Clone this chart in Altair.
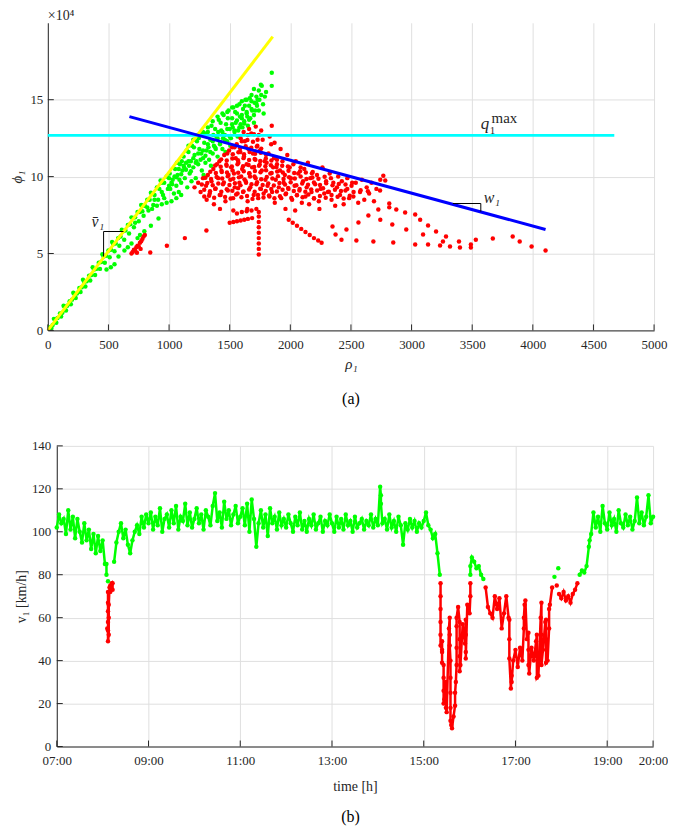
import altair as alt
import pandas as pd

FONT = "Liberation Serif"
AX = "#262626"
GRID = "#dfdfdf"

# ---------------- panel (a): flow-density scatter ----------------
green_pts = [
    (20, 0.2), (40, 0.35), (60, 0.7), (80, 0.8), (100, 1.1), (120, 1.15), (140, 1.5), (160, 1.6),
    (180, 1.9), (200, 2.0), (220, 2.35), (240, 2.4), (260, 2.75), (280, 2.8), (300, 3.15), (320, 3.2),
    (340, 3.55), (360, 3.6), (380, 3.95), (400, 4.0), (420, 4.4), (440, 4.45), (460, 4.8), (480, 4.85),
    (500, 5.2), (520, 5.25), (540, 5.6), (560, 5.65), (580, 6.0), (600, 6.1), (620, 6.45), (640, 6.5),
    (660, 6.85), (680, 6.9), (700, 7.3), (720, 7.35), (740, 7.7), (760, 7.7), (780, 8.1), (800, 8.1),
    (820, 8.5), (840, 8.5), (860, 8.9), (880, 8.8), (900, 9.3), (920, 9.2), (940, 9.6), (960, 9.6),
    (980, 10.0), (1000, 9.9),
    (30, 0.15), (70, 0.5), (110, 0.9), (150, 1.3), (190, 1.7), (230, 2.1), (270, 2.5), (310, 2.85),
    (350, 3.25), (390, 3.6), (430, 4.0), (470, 4.4), (510, 4.75), (550, 5.15), (590, 5.5), (630, 5.9),
    (670, 6.3), (710, 6.7), (750, 7.1), (790, 7.45), (830, 7.8), (870, 8.15), (910, 8.5), (950, 8.8),
    (990, 9.2),
    (50, 0.75), (130, 1.6), (210, 2.45), (290, 3.3), (370, 4.1), (450, 4.95), (530, 5.75), (610, 6.55),
    (690, 7.35), (770, 8.15), (850, 8.95), (930, 9.75),
    (484, 3.96), (520, 4.1), (550, 4.3), (583, 4.8), (632, 5.2), (690, 5.65), (740, 6.0), (796, 6.45),
    (913, 7.27), (660, 5.4), (760, 6.2), (850, 6.8),
    (860, 7.9), (900, 8.1), (940, 8.2), (980, 8.3), (1020, 8.4), (1060, 8.6), (1100, 8.8),
    (1010, 9.2), (1030, 9.8), (1040, 8.9), (1050, 10.5), (1060, 9.4), (1070, 10.1), (1080, 9.0),
    (1090, 10.8), (1100, 9.6),
    (1110, 10.4), (1120, 11.3), (1130, 9.9), (1140, 10.9), (1150, 9.3), (1160, 11.6), (1170, 10.2),
    (1180, 11.0), (1190, 12.0), (1200, 10.6),
    (1210, 11.4), (1220, 9.9), (1230, 12.3), (1240, 10.8), (1250, 11.8), (1260, 12.7), (1270, 10.4),
    (1280, 11.2), (1290, 12.2), (1300, 10.9),
    (1310, 11.7), (1320, 12.9), (1330, 11.1), (1340, 12.4), (1350, 13.3), (1360, 11.5), (1370, 12.0),
    (1380, 13.1), (1390, 12.6), (1400, 11.3),
    (1410, 13.7), (1420, 12.2), (1430, 13.0), (1440, 11.8), (1450, 14.0), (1460, 12.7), (1470, 13.4),
    (1480, 12.3), (1490, 14.3), (1500, 13.1),
    (1510, 12.5), (1520, 13.8), (1530, 14.5), (1540, 12.9), (1550, 13.5), (1560, 14.1), (1570, 13.0),
    (1580, 14.7), (1590, 13.4), (1600, 14.0),
    (1610, 14.4), (1620, 13.6), (1630, 15.0), (1640, 14.2), (1650, 13.3), (1660, 14.6), (1670, 13.8),
    (1680, 14.9), (1700, 13.5),
    (1710, 14.3), (1720, 15.2), (1730, 15.0), (1740, 15.6), (1757, 15.97), (1760, 15.3), (1800, 15.5),
    (1847, 15.9), (1847, 16.75), (1780, 14.1),
    (1005, 10.2), (1025, 9.5), (1045, 10.0), (1065, 10.9), (1085, 9.8), (1105, 11.0), (1125, 10.6),
    (1145, 11.7), (1165, 10.7), (1185, 9.7), (1205, 11.9), (1225, 11.0), (1245, 12.5), (1265, 11.5),
    (1285, 10.1), (1305, 12.8), (1325, 11.9), (1345, 10.7), (1365, 12.7), (1385, 11.8), (1405, 12.9),
    (1425, 13.5), (1445, 12.5), (1465, 11.6), (1485, 13.8), (1505, 12.0), (1525, 13.2), (1545, 14.2),
    (1565, 12.6), (1585, 13.9), (1605, 13.2), (1625, 14.6), (1645, 13.9), (1665, 15.1), (1685, 14.3),
    (1705, 14.8), (1725, 14.6), (1745, 15.0), (1765, 15.9), (1775, 14.7), (1790, 15.2),
    (720, 7.0), (780, 7.75), (820, 8.0), (880, 8.5), (940, 9.0), (960, 8.6), (1000, 9.4),
    (1020, 9.6), (1060, 9.95), (1100, 10.15), (1140, 10.45), (1180, 10.35), (1220, 10.9), (1260, 11.1),
    (1300, 11.35), (1340, 11.6), (1380, 11.9), (1420, 12.1), (1460, 12.4), (1500, 12.6), (1540, 13.0),
    (1580, 13.2), (1620, 13.45), (1660, 13.7), (1700, 14.0), (1740, 14.3),
    (1080, 10.5), (1120, 10.7), (1160, 11.0), (1200, 11.2), (1240, 11.5), (1280, 11.7), (1320, 12.1),
    (1360, 12.3), (1400, 12.5), (1440, 12.9), (1480, 13.1), (1520, 13.4), (1560, 13.65), (1600, 13.8),
    (1640, 14.1), (1680, 14.4), (1720, 14.75),
    (1160, 12.0), (1200, 12.4), (1240, 12.7), (1280, 12.9), (1320, 13.2), (1360, 13.6), (1400, 13.9),
    (1440, 14.1), (1480, 14.2), (1520, 14.5), (1560, 14.6), (1600, 14.9), (1640, 15.0), (1680, 15.3),
    (1700, 15.7),
]

red_pts = [
    (1210, 9.3), (1240, 9.6), (1260, 9.0), (1280, 9.9), (1290, 8.7),
    (1305, 9.4), (1320, 10.1), (1335, 8.9), (1350, 9.7), (1365, 10.5), (1380, 9.2), (1395, 10.8),
    (1310, 8.5), (1370, 8.2),
    (1405, 9.9), (1415, 11.0), (1425, 8.8), (1435, 10.3), (1445, 9.5), (1455, 11.4), (1465, 8.4),
    (1475, 10.7), (1485, 9.1), (1495, 11.7), (1420, 7.9), (1490, 10.1),
    (1505, 9.8), (1512, 10.6), (1520, 11.9), (1528, 8.6), (1535, 10.2), (1542, 9.3), (1550, 11.2),
    (1558, 12.1), (1565, 8.9), (1572, 10.9), (1580, 9.6), (1588, 11.6), (1595, 10.0), (1530, 7.8),
    (1590, 12.5),
    (1603, 10.5), (1610, 9.0), (1618, 11.3), (1625, 12.3), (1632, 9.7), (1640, 10.8), (1648, 8.4),
    (1655, 11.8), (1662, 10.2), (1670, 9.3), (1678, 12.8), (1685, 10.6), (1692, 11.5), (1698, 8.8),
    (1615, 12.9), (1660, 13.1), (1645, 7.9),
    (1705, 10.0), (1712, 11.1), (1720, 9.5), (1728, 12.0), (1735, 8.6), (1742, 10.7), (1750, 11.7),
    (1758, 9.2), (1765, 10.4), (1772, 12.4), (1780, 8.9), (1788, 11.0), (1795, 9.8), (1715, 13.25),
    (1760, 13.0), (1740, 12.7),
    (1805, 10.9), (1812, 9.4), (1820, 11.5), (1828, 8.7), (1835, 10.2), (1842, 12.1), (1850, 9.0),
    (1858, 10.6), (1865, 11.2), (1872, 8.3), (1880, 9.8), (1890, 10.8), (1847, 13.3), (1830, 12.6),
    (1870, 12.2),
    (1905, 9.3), (1915, 10.4), (1925, 8.6), (1935, 11.0), (1945, 9.6), (1955, 10.1), (1965, 8.9),
    (1975, 11.4), (1985, 9.2), (1995, 10.6), (1920, 11.8), (1960, 7.9),
    (2005, 9.9), (2015, 8.5), (2025, 10.8), (2035, 9.4), (2045, 11.0), (2055, 8.8), (2065, 10.2),
    (2075, 9.1), (2085, 10.6), (2095, 8.3), (2040, 7.8),
    (2105, 9.7), (2115, 10.5), (2125, 8.7), (2135, 9.3), (2145, 10.9), (2155, 8.2), (2165, 9.9),
    (2175, 9.0), (2185, 10.3), (2195, 8.6),
    (2205, 9.5), (2220, 10.1), (2235, 8.4), (2250, 9.2), (2265, 10.6), (2280, 8.9), (2295, 9.7),
    (2240, 7.9),
    (2310, 9.0), (2325, 10.2), (2340, 8.5), (2355, 9.6), (2370, 8.1), (2385, 9.3), (2395, 10.0),
    (2410, 8.8), (2425, 9.7), (2440, 8.2), (2455, 9.1), (2470, 9.9), (2485, 8.6),
    (2505, 9.4), (2520, 8.7), (2540, 9.6), (2560, 8.3), (2575, 9.0), (2590, 9.8),
    (2610, 8.5), (2630, 9.3), (2650, 8.9), (2670, 9.6), (2690, 8.4), (2710, 9.2), (2726, 7.86),
    (2742, 9.8), (2767, 10.06), (2783, 9.74), (2740, 9.1),
    # dense congested core
    (1330, 8.75), (1372, 8.62), (1418, 8.80), (1462, 8.68), (1508, 8.58), (1553, 8.83), (1597, 8.66),
    (1643, 8.74), (1688, 8.55), (1733, 8.81), (1779, 8.64), (1824, 8.77), (1869, 8.59), (1915, 8.72),
    (1961, 8.85), (2008, 8.61), (2054, 8.78), (2101, 8.66), (2149, 8.83), (2196, 8.57), (2244, 8.74),
    (2292, 8.62), (2340, 8.8), (2390, 8.69), (2440, 8.58), (2490, 8.76),
    (1290, 9.15), (1338, 9.05), (1384, 9.22), (1431, 9.02), (1476, 9.18), (1522, 9.08), (1569, 9.25),
    (1614, 9.04), (1660, 9.16), (1706, 9.01), (1752, 9.21), (1797, 9.07), (1843, 9.19), (1889, 9.03),
    (1936, 9.14), (1982, 9.26), (2029, 9.06), (2077, 9.2), (2124, 9.01), (2172, 9.17), (2221, 9.09),
    (2270, 9.24), (2318, 9.02), (2368, 9.15), (2418, 9.06), (2470, 9.2), (2522, 9.0), (2580, 9.12),
    (2640, 9.05),
    (1270, 9.48), (1315, 9.58), (1360, 9.44), (1406, 9.55), (1452, 9.62), (1498, 9.46), (1543, 9.57),
    (1589, 9.43), (1635, 9.6), (1680, 9.5), (1726, 9.64), (1772, 9.45), (1818, 9.56), (1864, 9.42),
    (1910, 9.59), (1956, 9.48), (2003, 9.63), (2050, 9.44), (2098, 9.55), (2146, 9.47), (2195, 9.61),
    (2245, 9.45), (2296, 9.57), (2348, 9.43), (2400, 9.52), (2455, 9.48), (2510, 9.6),
    (1300, 9.92), (1346, 9.84), (1392, 9.98), (1438, 9.88), (1484, 10.02), (1530, 9.86), (1576, 9.95),
    (1622, 9.82), (1668, 10.0), (1714, 9.9), (1760, 9.83), (1806, 9.97), (1852, 9.87), (1898, 10.03),
    (1944, 9.85), (1990, 9.96), (2037, 9.88), (2085, 10.01), (2133, 9.84), (2182, 9.94), (2232, 9.86),
    (2283, 9.99), (2335, 9.9),
    (1340, 10.32), (1386, 10.24), (1432, 10.38), (1478, 10.27), (1524, 10.4), (1570, 10.25),
    (1616, 10.35), (1662, 10.22), (1708, 10.37), (1754, 10.28), (1800, 10.41), (1846, 10.23),
    (1892, 10.33), (1938, 10.26), (1985, 10.38), (2032, 10.24), (2080, 10.35), (2128, 10.27),
    (2178, 10.21),
    (1380, 10.72), (1426, 10.64), (1472, 10.78), (1518, 10.66), (1564, 10.8), (1610, 10.68),
    (1656, 10.75), (1702, 10.62), (1748, 10.79), (1794, 10.67), (1840, 10.74), (1886, 10.63),
    (1933, 10.7), (1980, 10.66),
    (1430, 11.12), (1476, 11.04), (1522, 11.18), (1568, 11.06), (1614, 11.2), (1660, 11.08),
    (1706, 11.15), (1752, 11.02), (1798, 11.17), (1844, 11.05), (1890, 11.1),
    (1480, 11.5), (1526, 11.45), (1572, 11.58), (1618, 11.46), (1664, 11.6), (1710, 11.48),
    (1756, 11.55), (1800, 11.42),
    (1540, 11.9), (1586, 11.85), (1632, 11.98), (1678, 11.88), (1724, 11.95), (1760, 11.82),
    (1600, 12.3), (1646, 12.38), (1692, 12.26), (1730, 12.4), (1650, 12.7), (1700, 12.75),
    # sparse congested tail
    (690, 5.0), (700, 5.1), (710, 5.25), (720, 5.2), (730, 5.4), (740, 5.5), (750, 5.45), (760, 5.7),
    (770, 5.8), (780, 5.95), (790, 6.1), (800, 6.2), (735, 5.05), (765, 5.3),
    (845, 5.06), (982, 5.5), (1130, 6.0), (1308, 6.5),
    (1500, 7.0), (1530, 7.05), (1560, 7.1), (1590, 7.15), (1620, 7.2), (1650, 7.25), (1685, 7.3),
    (1740, 4.94), (1740, 5.3), (1740, 5.65), (1740, 6.0), (1740, 6.35), (1740, 6.7), (1740, 7.05),
    (1740, 7.4), (1740, 7.7),
    (1560, 7.6), (1600, 7.7), (1640, 7.75), (1680, 7.8), (1720, 7.9),
    (1987, 7.2), (2020, 7.0), (2055, 6.8), (2090, 6.6), (2125, 6.4), (2160, 6.2), (2195, 6.0),
    (2230, 5.85), (2258, 5.7),
    (2816, 8.25), (2816, 8.0), (2874, 7.86), (2947, 7.66), (3030, 7.53), (3071, 7.2), (3136, 6.82),
    (3202, 6.43), (3284, 6.1), (3259, 5.78), (3235, 5.52), (3136, 5.58), (3095, 6.23), (3030, 5.58),
    (2956, 6.56), (2841, 6.88), (2742, 7.2), (2644, 7.47), (2562, 7.01), (2463, 6.56), (2422, 5.9),
    (2545, 5.84), (2685, 5.78), (2849, 5.71), (2373, 6.23), (2348, 6.75), (3317, 5.45), (3391, 5.78),
    (3399, 5.39), (3489, 5.58), (3489, 5.39), (3530, 5.9), (3670, 5.97), (3834, 6.1), (3892, 5.78),
    (3990, 5.45), (4105, 5.2),
]

# reference lines (rho, phi in 10^4 units)
yellow_rho = [0, 1855]
yellow_phi = [0, 19.1]
cyan_rho = [0, 4672]
cyan_phi = [12.68, 12.68]
blue_rho = [673, 4105]
blue_phi = [13.9, 6.56]

# slope markers
vbar_mark_rho = [460, 460, 624]
vbar_mark_phi = [4.8, 6.43, 6.43]
w_mark_rho = [3341, 3571, 3571]
w_mark_phi = [8.25, 8.25, 7.72]

x_ticks_a = [0, 500, 1000, 1500, 2000, 2500, 3000, 3500, 4000, 4500, 5000]
y_ticks_a = [0, 5, 10, 15]

# ---------------- panel (b): speed time series ----------------
speed_by_hour = [
    [102, 108, 104, 106, 99, 110, 101, 107, 97, 106, 100, 95, 104, 96, 101, 92, 99, 90, 98, 91],       # 07
    [96, 85, 55, 74, 76, 86, 95, 100, 104, 97, 101, 94, 90, 96, 100, 103, 99, 107, 102, 108],         # 08
    [104, 109, 101, 107, 103, 111, 100, 106, 108, 102, 110, 104, 112, 101, 107, 105, 113, 103, 109, 102],  # 09
    [106, 111, 104, 108, 101, 110, 107, 103, 112, 118, 105, 109, 102, 114, 106, 110, 103, 108, 112, 104],  # 10
    [107, 111, 103, 113, 100, 115, 106, 93, 104, 110, 102, 108, 98, 111, 104, 107, 101, 109, 103, 106],   # 11
    [102, 108, 104, 100, 107, 103, 109, 101, 105, 100, 106, 103, 108, 101, 104, 107, 100, 105, 103, 108],  # 12
    [104, 100, 107, 102, 106, 101, 108, 103, 105, 100, 107, 102, 104, 106, 101, 105, 103, 108, 102, 106],  # 13
    [103, 121, 104, 106, 101, 108, 102, 105, 100, 107, 103, 94, 104, 101, 106, 102, 105, 100, 104, 102],   # 14
    [105, 109, 103, 101, 97, 99, 90, 80, 45, 22, 16, 55, 10, 14, 30, 65, 38, 57, 48, 66],               # 15
    [62, 88, 86, 83, 84, 80, 78, 74, 65, 62, 60, 70, 64, 69, 55, 62, 70, 60, 27, 40],                   # 16
    [45, 37, 46, 40, 66, 50, 34, 46, 40, 49, 33, 60, 45, 58, 40, 66, 74, 79, 75, 71],                   # 17
    [69, 72, 68, 70, 67, 71, 73, 76, 80, 82, 81, 84, 93, 99, 109, 102, 107, 100, 112, 104],             # 18
    [101, 109, 103, 106, 100, 110, 104, 102, 108, 103, 107, 101, 105, 116, 104, 109, 103, 107, 117, 104],  # 19
    [107],                                                                                              # 20:00
]
# extra samples in steep drops: (minutes after 07:00, km/h)
extra_samples = [
    (65, 85), (65, 80), (67, 77), (67, 72), (67, 67), (67, 63), (67, 58), (67, 54), (67, 49),
    (68, 52), (68, 60), (68, 66), (70, 72), (70, 75), (73, 73), (73, 76),
    (424, 117), (424, 113),
    (502, 76), (502, 70), (502, 64), (502, 58), (502, 52), (502, 47), (504, 49), (504, 44), (504, 39),
    (506, 38), (506, 32), (506, 26), (506, 20), (509, 30), (509, 24), (509, 18), (514, 60), (514, 52),
    (514, 47), (515, 40), (515, 32), (515, 25), (515, 18), (515, 12), (517, 8.5), (521, 19), (521, 25),
    (523, 38), (523, 46), (523, 56), (523, 60), (527, 58), (527, 50), (527, 42), (527, 35), (535, 59),
    (535, 52), (535, 44), (535, 41), (541, 70), (541, 76), (541, 80), (541, 84),
    (592, 59), (592, 50), (592, 41), (595, 33), (595, 30), (611, 55), (611, 60), (613, 68), (617, 53),
    (617, 45), (617, 38), (628, 52), (628, 42), (628, 32), (634, 67), (634, 52), (634, 38), (640, 59),
    (640, 50), (640, 39), (644, 55), (644, 64), (656, 83), (697, 96),
]
SAMPLE_STEP_MIN = 3
CONGESTION_KMH = 77
x_ticks_b = [0, 120, 240, 360, 480, 600, 720, 780]
y_ticks_b = [0, 20, 40, 60, 80, 100, 120, 140]

# ---------------- build tables ----------------
g_df = pd.DataFrame(green_pts, columns=["rho", "phi"])
r_df = pd.DataFrame(red_pts, columns=["rho", "phi"])
yel_df = pd.DataFrame({"rho": yellow_rho, "phi": yellow_phi})
cya_df = pd.DataFrame({"rho": cyan_rho, "phi": cyan_phi})
blu_df = pd.DataFrame({"rho": blue_rho, "phi": blue_phi})
mk_df = pd.DataFrame({
    "rho": vbar_mark_rho + w_mark_rho,
    "phi": vbar_mark_phi + w_mark_phi,
    "grp": ["v"] * 3 + ["w"] * 3,
    "k": [0, 1, 2, 0, 1, 2],
})

vals = [v for hour in speed_by_hour for v in hour]
ts = pd.DataFrame({"t": [i * SAMPLE_STEP_MIN for i in range(len(vals))], "v": vals})
ex = pd.DataFrame(extra_samples, columns=["t", "v"])
ts = pd.concat([ts, ex], ignore_index=True).sort_values("t", kind="stable").reset_index(drop=True)
ts["cls"] = ["r" if v < CONGESTION_KMH else "g" for v in ts["v"]]
ts["run"] = (ts["cls"] != ts["cls"].shift()).cumsum()

# ---------------- panel (a) chart ----------------
W_A, H_A = 609, 309
TICK_PX = 6
LABEL_SIZE = 13
xs_a = alt.Scale(domain=[0, 5000], nice=False, zero=False)
ys_a = alt.Scale(domain=[0, 20], nice=False, zero=False)

axis_common = dict(
    labelFont=FONT, labelFontSize=LABEL_SIZE, labelColor=AX, domainColor=AX, domainWidth=1,
    gridColor=GRID, gridWidth=1, grid=True, ticks=False, tickSize=0, labelFlush=False,
    titleFont=FONT, titleColor=AX, titleFontWeight="normal",
)

ax_x_a = alt.Axis(values=x_ticks_a, format="d", title="ρ₁", titleFontSize=15, titleFontStyle="italic",
                  labelPadding=8, titlePadding=5, **axis_common)
ax_y_a = alt.Axis(values=y_ticks_a, format="d", title="ϕ₁", titleFontSize=15, titleFontStyle="italic",
                  labelPadding=5, titlePadding=5, **axis_common)
xa = alt.X("rho:Q", scale=xs_a, axis=ax_x_a)
ya = alt.Y("phi:Q", scale=ys_a, axis=ax_y_a)

green_layer = alt.Chart(g_df).mark_circle(size=20, color="#00ff00", opacity=1).encode(x=xa, y=ya)
red_layer = alt.Chart(r_df).mark_circle(size=20, color="#ff0000", opacity=1).encode(x=xa, y=ya)
yel_layer = alt.Chart(yel_df).mark_line(color="#ffff00", strokeWidth=3).encode(x=xa, y=ya)
cya_layer = alt.Chart(cya_df).mark_line(color="#00ffff", strokeWidth=3).encode(x=xa, y=ya)
blu_layer = alt.Chart(blu_df).mark_line(color="#0000ff", strokeWidth=3).encode(x=xa, y=ya)
mk_layer = alt.Chart(mk_df).mark_line(color="black", strokeWidth=1).encode(
    x=xa, y=ya, detail="grp:N", order="k:Q")

# inward axis ticks (MATLAB style), lengths converted from pixels to data units
tx_a = pd.DataFrame({"rho": x_ticks_a, "phi": [0] * len(x_ticks_a),
                     "phi2": [TICK_PX * 20 / H_A] * len(x_ticks_a)})
ty_a = pd.DataFrame({"rho": [0] * len(y_ticks_a), "rho2": [TICK_PX * 5000 / W_A] * len(y_ticks_a),
                     "phi": y_ticks_a})
tickx_a = alt.Chart(tx_a).mark_rule(color=AX, strokeWidth=1).encode(x=xa, y=ya, y2="phi2:Q")
ticky_a = alt.Chart(ty_a).mark_rule(color=AX, strokeWidth=1).encode(x=xa, x2="rho2:Q", y=ya)

ann = pd.DataFrame({
    "rho": [0, 361, 3596, 3571, 3645, 3660],
    "phi": [20.2, 6.75, 8.31, 13.12, 12.75, 13.5],
    "txt": ["×10⁴", "v̄₁", "w₁", "q", "1", "max"],
    "sz": [14, 16, 16, 17, 11, 15],
    "it": ["normal", "italic", "italic", "italic", "normal", "normal"],
})
txt_layers = []
for i in range(len(ann)):
    row = ann.iloc[[i]]
    txt_layers.append(
        alt.Chart(row).mark_text(align="left", baseline="alphabetic", font=FONT,
                                 fontSize=float(row["sz"].iloc[0]),
                                 fontStyle=str(row["it"].iloc[0]), color=AX)
        .encode(x=xa, y=ya, text="txt:N")
    )

top = alt.layer(green_layer, red_layer, yel_layer, cya_layer, blu_layer, mk_layer,
                tickx_a, ticky_a, *txt_layers).properties(
    width=W_A, height=H_A,
    title=alt.TitleParams("(a)", orient="bottom", font=FONT, fontSize=16, fontWeight="normal",
                          color="black", offset=20),
)

# ---------------- panel (b) chart ----------------
SHIFT_B = 9  # panel (b) plot starts 9px to the right of panel (a)
W_B, H_B = 599, 302
xs_b = alt.Scale(domain=[0, 780], nice=False, zero=False, range=[SHIFT_B, SHIFT_B + W_B])
ys_b = alt.Scale(domain=[0, 140], nice=False, zero=False)
label_expr = "(floor(datum.value/60)+7 < 10 ? '0' : '') + (floor(datum.value/60)+7) + ':00'"
ax_x_b = alt.Axis(values=x_ticks_b, labelExpr=label_expr, title="time [h]", titleFontSize=14,
                  labelPadding=8, titlePadding=12, labelOverlap=False, **axis_common)
ax_y_b = alt.Axis(values=y_ticks_b, format="d", title="v₁ [km/h]", titleFontSize=14,
                  labelPadding=6, titlePadding=3, offset=-SHIFT_B, **axis_common)
xb = alt.X("t:Q", scale=xs_b, axis=ax_x_b)
yb = alt.Y("v:Q", scale=ys_b, axis=ax_y_b)
cscale = alt.Scale(domain=["g", "r"], range=["#00ff00", "#ff0000"])
line_b = alt.Chart(ts).mark_line(strokeWidth=2.5).encode(
    x=xb, y=yb, color=alt.Color("cls:N", scale=cscale, legend=None), detail="run:N", order="t:Q")
pts_b = alt.Chart(ts).mark_circle(size=20, opacity=1).encode(
    x=xb, y=yb, color=alt.Color("cls:N", scale=cscale, legend=None))

tx_b = pd.DataFrame({"t": x_ticks_b, "v": [0] * len(x_ticks_b),
                     "v2": [TICK_PX * 140 / H_B] * len(x_ticks_b)})
ty_b = pd.DataFrame({"t": [0] * len(y_ticks_b), "t2": [TICK_PX * 780 / W_B] * len(y_ticks_b),
                     "v": y_ticks_b})
tickx_b = alt.Chart(tx_b).mark_rule(color=AX, strokeWidth=1).encode(x=xb, y=yb, y2="v2:Q")
ticky_b = alt.Chart(ty_b).mark_rule(color=AX, strokeWidth=1).encode(x=xb, x2="t2:Q", y=yb)

bottom = alt.layer(line_b, pts_b, tickx_b, ticky_b).properties(
    width=SHIFT_B + W_B, height=H_B,
    title=alt.TitleParams("(b)", orient="bottom", font=FONT, fontSize=16, fontWeight="normal",
                          color="black", offset=16),
)

chart = (
    alt.concat(top, bottom, columns=1, spacing=116, bounds="flush",
               padding={"left": 2, "top": -2, "right": 0, "bottom": 0})
    .configure_view(strokeWidth=0)
    .configure_axis(labelFont=FONT, titleFont=FONT)
    .configure_text(font=FONT)
)

chart.save("out.html", embed_options={"renderer": "svg", "actions": False})
